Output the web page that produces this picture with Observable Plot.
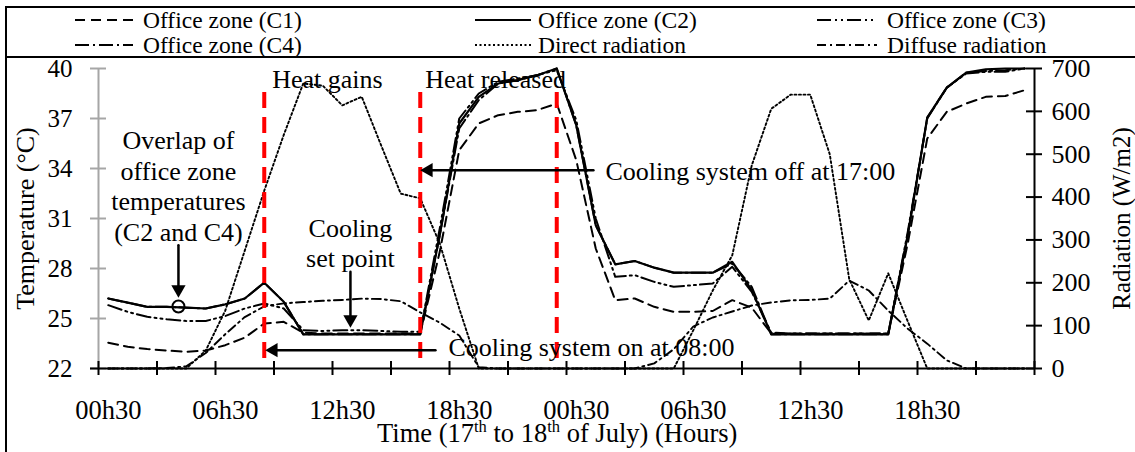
<!DOCTYPE html>
<html>
<head>
<meta charset="utf-8">
<script src="https://cdn.jsdelivr.net/npm/d3@7"></script>
<script src="https://cdn.jsdelivr.net/npm/@observablehq/plot@0.6"></script>
<style>
  html, body { margin: 0; padding: 0; background: #fff; }
  #wrap { position: relative; width: 1135px; height: 452px; overflow: hidden; background: #fff; }
  #legend { position: absolute; left: 0; top: 0; }
  #chart { position: absolute; left: 0; top: 58px; }
  #leftBorder { position: absolute; left: 5px; top: 6px; width: 2px; height: 446px; background: #000; }
</style>
</head>
<body>
<div id="wrap">
  <div id="chart"></div>
  <div id="legend"></div>
  <div id="leftBorder"></div>
</div>
<script>
const FONT = '"Liberation Serif", "Times New Roman", Times, serif';

// ---------------- data (hourly, 00h30 on 17 July to 23h30 on 18 July) ----------------
const c1 = [23.55, 23.3, 23.17, 23.08, 23.0, 23.08, 23.4, 23.85, 24.7, 24.8,
            24.15, 24.1, 24.1, 24.1, 24.1, 24.1, 24.1, 29.0, 35.1, 36.7,
            37.2, 37.4, 37.5, 37.9, 34.5, 29.2, 26.1, 26.2, 25.7, 25.4,
            25.4, 25.45, 26.1, 25.65, 24.1, 24.1, 24.1, 24.1, 24.1, 24.1,
            24.1, 29.5, 35.8, 37.4, 37.9, 38.3, 38.35, 38.7];
const c2 = [26.2, 25.95, 25.7, 25.7, 25.65, 25.6, 25.85, 26.2, 27.15, 26.0,
            24.05, 24.05, 24.05, 24.05, 24.05, 24.05, 24.05, 30.0, 36.7, 38.3,
            39.1, 39.3, 39.6, 40.0, 36.6, 30.6, 28.25, 28.45, 28.05, 27.75,
            27.75, 27.75, 28.4, 26.7, 24.05, 24.05, 24.05, 24.05, 24.05, 24.05,
            24.05, 30.0, 37.05, 38.85, 39.75, 39.95, 40.0, 40.0];
const c3 = [25.8, 25.4, 25.1, 24.95, 24.85, 24.85, 25.15, 25.6, 25.9, 25.6,
            24.3, 24.25, 24.3, 24.3, 24.25, 24.2, 24.2, 30.4, 37.0, 38.5,
            39.2, 39.4, 39.6, 39.9, 36.9, 31.0, 27.5, 27.6, 27.2, 26.9,
            27.0, 27.1, 28.1, 26.6, 24.15, 24.1, 24.1, 24.1, 24.1, 24.1,
            24.1, 30.2, 37.0, 38.85, 39.7, 39.8, 39.8, 40.0];
const c4 = [26.2, 25.95, 25.7, 25.7, 25.65, 25.6, 25.85, 26.2, 27.15, 26.0,
            24.05, 24.05, 24.05, 24.05, 24.05, 24.05, 24.05, 30.0, 36.4, 38.1,
            39.1, 39.3, 39.6, 40.0, 36.6, 30.6, 28.25, 28.45, 28.05, 27.75,
            27.75, 27.75, 28.3, 26.9, 24.05, 24.05, 24.05, 24.05, 24.05, 24.05,
            24.05, 30.0, 37.05, 38.85, 39.75, 39.85, 39.9, 40.0];
const direct = [0, 0, 0, 0, 0, 42, 135, 275, 415, 545,
                665, 660, 614, 634, 520, 408, 397, 292, 140, 0,
                0, 0, 0, 0, 0, 0, 0, 0, 0, 0,
                89, 182, 264, 474, 606, 639, 639, 500, 208, 112,
                222, 110, 0, 0, 0, 0, 0, 0];
const diffuse = [0, 0, 0, 1, 5, 36, 80, 120, 145, 152,
                 155, 158, 160, 163, 162, 157, 131, 107, 77, 3,
                 0, 0, 0, 0, 0, 0, 0, 0, 12, 45,
                 98, 119, 133, 147, 154, 159, 160, 163, 205, 182,
                 135, 93, 58, 19, 0, 0, 0, 0];

const xTickLabels = ["00h30", "06h30", "12h30", "18h30", "00h30", "06h30", "12h30", "18h30"];
const xLabelIndex = [0, 6, 12, 18, 24, 30, 36, 42];
const tempTicks = [22, 25, 28, 31, 34, 37, 40];
const radTicks = [0, 100, 200, 300, 400, 500, 600, 700];
const xTickPos = [0, 3, 6, 9, 12, 15, 18, 21, 24, 27, 30, 33, 36, 39, 42, 45, 48];

// events (hour index): cooling on 08:00, cooling off 17:00, evening peak
const events = [8, 16, 23];

const seriesNames = ["Office zone (C1)", "Office zone (C2)", "Office zone (C3)",
                     "Office zone (C4)", "Direct radiation", "Diffuse radiation"];

// annotations, in data units (x = hour index position, y = °C)
const annoTexts = [
  {x: 8.5, y: 40, text: "Heat gains", dx: 8, dy: 10, anchor: "start"},
  {x: 16.5, y: 40, text: "Heat released", dx: 5, dy: 10, anchor: "start"},
  {x: 25.38, y: 33.9, text: "Cooling system off at 17:00", dx: 12, dy: 0, anchor: "start"},
  {x: 17.28, y: 23.1, text: "Cooling system on at 08:00", dx: 13, dy: -4, anchor: "start"},
  {x: 12.92, y: 29.56, text: "Cooling\nset point", dx: 0, dy: 0, anchor: "middle"},
  {x: 4.1, y: 33.0, text: "Overlap of\noffice zone\ntemperatures\n(C2 and C4)", dx: 0, dy: 0, anchor: "middle"}
];
const leftArrows = [
  {x1: 25.38, x2: 16.5, y: 33.9},
  {x1: 17.28, x2: 8.55, y: 23.1}
];
const downArrows = [
  {x: 12.92, y1: 27.8, y2: 24.45},
  {x: 4.1, y1: 29.4, y2: 26.25}
];
const overlapMark = [{x: 4.1, y: 25.72}];

// ---------------- build ----------------
const radToT = r => 22 + r * 18 / 700;
const table = c1.map((_, i) => ({
  pos: i + 0.5, C1: c1[i], C2: c2[i], C3: c3[i], C4: c4[i],
  directT: radToT(direct[i]), diffuseT: radToT(diffuse[i])
}));

const styles = {
  C1: {dash: "10,6", w: 2},
  C2: {dash: null, w: 2.2},
  C3: {dash: "14,4,2,4,2,4", w: 2},
  C4: {dash: "14,4,2,4", w: 2},
  direct: {dash: "2,2.5", w: 1.9},
  diffuse: {dash: "9,4,2,4", w: 1.9}
};

const HEAD_R = 5.3;
const HEAD_OFF = 2 * 0.7776 * HEAD_R;
const T = {fontFamily: FONT, fill: "#000"};

const plot = Plot.plot({
  width: 1135,
  height: 394,
  marginLeft: 98,
  marginRight: 101,
  marginTop: 10,
  marginBottom: 84,
  x: {domain: [0, 48], axis: null},
  y: {domain: [22, 40], axis: null},
  style: {fontFamily: FONT, background: "transparent", overflow: "visible", color: "#000"},
  marks: [
    // left (grey) axis
    Plot.ruleX([0], {y1: 22, y2: 40, stroke: "#a6a6a6", strokeWidth: 2}),
    Plot.ruleY(tempTicks, {y: d => d, x1: 0, x2: 0, insetLeft: -8, insetRight: -8, stroke: "#a6a6a6", strokeWidth: 2}),
    // right axis
    Plot.ruleX([48], {y1: 22, y2: 40, stroke: "#000", strokeWidth: 2}),
    Plot.ruleY(radTicks, {y: d => radToT(d), x1: 48, x2: 48, insetLeft: -8, insetRight: -8, stroke: "#000", strokeWidth: 2}),
    // series
    Plot.line(table, {x: "pos", y: "diffuseT", stroke: "#000", strokeWidth: styles.diffuse.w, strokeDasharray: styles.diffuse.dash}),
    Plot.line(table, {x: "pos", y: "directT", stroke: "#000", strokeWidth: styles.direct.w, strokeDasharray: styles.direct.dash}),
    Plot.line(table, {x: "pos", y: "C1", stroke: "#000", strokeWidth: styles.C1.w, strokeDasharray: styles.C1.dash}),
    Plot.line(table, {x: "pos", y: "C3", stroke: "#000", strokeWidth: styles.C3.w, strokeDasharray: styles.C3.dash}),
    Plot.line(table, {x: "pos", y: "C4", stroke: "#000", strokeWidth: styles.C4.w, strokeDasharray: styles.C4.dash}),
    Plot.line(table, {x: "pos", y: "C2", stroke: "#000", strokeWidth: styles.C2.w}),
    // bottom axis
    Plot.ruleY([22], {stroke: "#000", strokeWidth: 2, insetLeft: -8}),
    Plot.ruleX(xTickPos, {x: d => d, y1: 22, y2: 22, insetTop: -7, insetBottom: -7, stroke: "#000", strokeWidth: 2}),
    // tick labels
    Plot.text(tempTicks, {...T, x: 0, y: d => d, text: d => String(d), dx: -26, textAnchor: "end", fontSize: 25}),
    Plot.text(radTicks, {...T, x: 48, y: d => radToT(d), text: d => String(d), dx: 17, textAnchor: "start", fontSize: 26}),
    Plot.text(xLabelIndex, {...T, x: d => d + 0.5, y: 22, text: (d, i) => xTickLabels[i], dy: 42, fontSize: 26.5}),
    // axis titles
    Plot.text(["Temperature (°C)"], {...T, x: 0, y: 31, text: d => d, dx: -73, rotate: -90, fontSize: 26}),
    Plot.text(["Radiation (W/m2)"], {...T, x: 48, y: 31, text: d => d, dx: 87, rotate: -90, fontSize: 25}),
    // event markers
    Plot.ruleX(events, {x: d => d + 0.5, y1: 22.6, y2: 38.7, stroke: "#ff0000", strokeWidth: 4, strokeDasharray: "16,9"}),
    // annotations
    ...annoTexts.map(a => Plot.text([a], {...T, x: "x", y: "y", text: "text", dx: a.dx, dy: a.dy, textAnchor: a.anchor, fontSize: 26, lineHeight: 1.17})),
    Plot.arrow(leftArrows, {x1: "x1", x2: "x2", y1: "y", y2: "y", headLength: 0, insetEnd: 8, stroke: "#000", strokeWidth: 2.5}),
    Plot.arrow(downArrows, {x1: "x", x2: "x", y1: "y1", y2: "y2", headLength: 0, insetEnd: 8, stroke: "#000", strokeWidth: 2.5}),
    Plot.dot(leftArrows, {x: "x2", y: "y", symbol: "triangle", r: HEAD_R, fill: "#000", stroke: "none", rotate: -90, dx: HEAD_OFF}),
    Plot.dot(downArrows, {x: "x", y: "y2", symbol: "triangle", r: HEAD_R, fill: "#000", stroke: "none", rotate: 180, dy: -HEAD_OFF}),
    Plot.dot(overlapMark, {x: "x", y: "y", r: 6, stroke: "#000", strokeWidth: 2, fill: "none"})
  ]
});

document.getElementById("chart").appendChild(plot);

// x-axis title with superscripts
{
  const sx = plot.scale("x"), sy = plot.scale("y");
  const t = d3.select(plot).append("text")
    .attr("x", sx.apply(23.55))
    .attr("y", sy.apply(22) + 74)
    .attr("text-anchor", "middle")
    .attr("font-size", 26.5)
    .attr("font-family", FONT)
    .attr("fill", "#000");
  const parts = [["Time (17", false], ["th", true], [" to 18", false], ["th", true], [" of July) (Hours)", false]];
  let raised = false;
  for (const [s, sup] of parts) {
    const ts = t.append("tspan").text(s);
    if (sup) { ts.attr("font-size", 16.5).attr("dy", -10); raised = true; }
    else if (raised) { ts.attr("dy", 10); raised = false; }
  }
}

// legend (above the plot area)
{
  const svg = d3.select("#legend").append("svg").attr("width", 1135).attr("height", 58);
  svg.append("rect").attr("x", 5).attr("y", 6).attr("width", 1130).attr("height", 2).attr("fill", "#000");
  svg.append("rect").attr("x", 5).attr("y", 56).attr("width", 1130).attr("height", 2).attr("fill", "#000");
  const keys = ["C1", "C2", "C3", "C4", "direct", "diffuse"];
  const swX = [75, 475, 817], swW = [58, 56, 60], txX = [143, 538, 887], rowY = [20, 45];
  keys.forEach((k, i) => {
    const col = i % 3, row = Math.floor(i / 3);
    const st = styles[k];
    svg.append("line")
      .attr("x1", swX[col]).attr("x2", swX[col] + swW[col])
      .attr("y1", rowY[row]).attr("y2", rowY[row])
      .attr("stroke", "#000").attr("stroke-width", st.w)
      .attr("stroke-dasharray", st.dash);
    svg.append("text")
      .attr("x", txX[col]).attr("y", rowY[row] + 8)
      .attr("font-family", FONT).attr("font-size", 23.5).attr("fill", "#000")
      .text(seriesNames[i]);
  });
}
</script>
</body>
</html>
